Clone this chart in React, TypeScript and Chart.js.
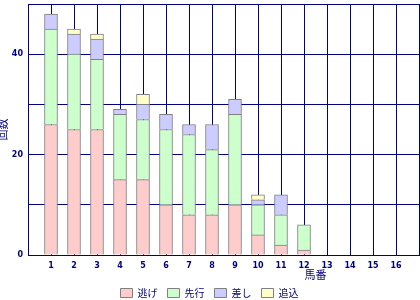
import React, { useEffect, useRef } from 'react';
import { Chart, registerables } from 'chart.js';

Chart.register(...registerables);

// Category labels: horse numbers 1..16, with empty slots at both ends of the axis
const horseNumbers = ['', '1', '2', '3', '4', '5', '6', '7', '8', '9', '10', '11', '12', '13', '14', '15', '16', ''];
const nige = [null, 26, 25, 25, 15, 15, 10, 8, 8, 10, 4, 2, 1, 0, 0, 0, 0, null];
const senko = [null, 19, 15, 14, 13, 12, 15, 16, 13, 18, 6, 6, 5, 0, 0, 0, 0, null];
const sashi = [null, 3, 4, 4, 1, 3, 3, 2, 5, 3, 1, 4, 0, 0, 0, 0, 0, null];
const oikomi = [null, 0, 1, 1, 0, 2, 0, 0, 0, 0, 1, 0, 0, 0, 0, 0, 0, null];
const seriesNames = ['逃げ', '先行', '差し', '追込'];
const xTitle = '馬番';
const yTitle = '回数';

const NAVY = '#000080';
const CJK = '"Noto Sans CJK JP", sans-serif';
const BOTTOM_SHIFT = 8;
const PLOT_BOTTOM = 255;

const axisTitles = {
  id: 'axisTitles',
  afterDraw(chart: any) {
    const { ctx, chartArea } = chart;
    const x = chart.scales.x;
    ctx.save();
    ctx.fillStyle = NAVY;
    ctx.font = '11px ' + CJK;
    ctx.textAlign = 'center';
    ctx.textBaseline = 'middle';
    ctx.fillText(xTitle, x.getPixelForValue(12.5), 275);
    ctx.translate(3, (chartArea.top + chartArea.bottom) / 2);
    ctx.rotate(-Math.PI / 2);
    ctx.fillText(yTitle, 0, 0);
    ctx.restore();
  },
};

export default function App() {
  const ref = useRef<HTMLCanvasElement>(null);
  useEffect(() => {
    const mk = (label: string, data: any[], bg: string) => ({
      label,
      data,
      backgroundColor: bg,
      borderColor: '#808080',
      borderWidth: 1,
      barThickness: 13,
    });
    const chart = new Chart(ref.current!, {
      type: 'bar',
      data: {
        labels: horseNumbers,
        datasets: [
          mk(seriesNames[0], nige, '#FFCCCC'),
          mk(seriesNames[1], senko, '#CCFFCC'),
          mk(seriesNames[2], sashi, '#CCCCFF'),
          mk(seriesNames[3], oikomi, '#FFFFCC'),
        ],
      },
      options: {
        responsive: false,
        animation: false,
        devicePixelRatio: 1,
        layout: { padding: { top: 4, right: 1, left: 0, bottom: -BOTTOM_SHIFT } },
        plugins: {
          tooltip: { enabled: false },
          legend: {
            position: 'bottom',
            labels: {
              color: NAVY,
              font: { size: 10, family: CJK },
              boxWidth: 12,
              boxHeight: 9,
              padding: 10,
            },
          },
        },
        scales: {
          x: {
            type: 'category',
            stacked: true,
            offset: false,
            grid: { color: NAVY, lineWidth: 1, drawTicks: false, offset: false },
            border: { color: NAVY, width: 1 },
            ticks: {
              color: NAVY,
              font: { size: 8, weight: 'bold', family: '"DejaVu Sans"' },
              padding: 6,
              autoSkip: false,
              maxRotation: 0,
            },
            afterFit: (s: any) => {
              const lh = s.chart.legend ? s.chart.legend.height : 0;
              s.height = s.chart.height + BOTTOM_SHIFT - PLOT_BOTTOM - lh;
              s.paddingLeft = 0;
              s.paddingRight = 0;
            },
          },
          y: {
            stacked: true,
            min: 0,
            max: 50,
            grid: { color: NAVY, lineWidth: 1, drawTicks: false },
            border: { color: NAVY, width: 1 },
            ticks: {
              stepSize: 10,
              color: NAVY,
              font: { size: 8, weight: 'bold', family: '"DejaVu Sans"' },
              padding: 5,
              callback: (v: any) => (Number(v) % 20 === 0 ? String(v) : ''),
            },
            afterFit: (s: any) => {
              s.width = 28;
              s.paddingTop = 0;
              s.paddingBottom = 0;
            },
          },
        },
      },
      plugins: [axisTitles],
    } as any);
    return () => chart.destroy();
  }, []);
  return (
    <div style={{ position: 'absolute', left: 0, top: 0, width: 420, height: 300 }}>
      <canvas ref={ref} width={420} height={300} />
    </div>
  );
}
